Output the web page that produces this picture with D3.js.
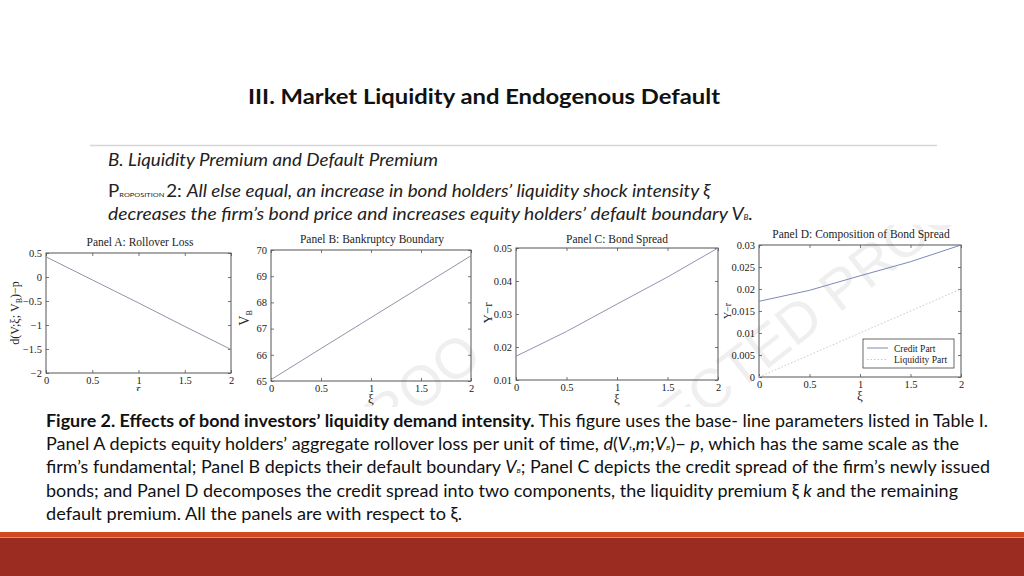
<!DOCTYPE html>
<html>
<head>
<meta charset="utf-8">
<script src="https://cdn.jsdelivr.net/npm/d3@7"></script>
<style>
  html, body { margin: 0; padding: 0; background: #fff; }
  svg { display: block; }
</style>
</head>
<body>
<svg width="1024" height="576"></svg>
<script>
// Chart data
const xi = [0, 0.5, 1, 1.5, 2];
const rolloverLoss = [0.42, -0.06, -0.54, -1.03, -1.51];
const defaultBoundary = [65.05, 66.24, 67.42, 68.6, 69.78];
const bondSpread = [0.0172, 0.0247, 0.0330, 0.0412, 0.0500];
const creditPart = [0.0172, 0.0197, 0.0230, 0.0262, 0.0300];
const liquidityPart = [0, 0.005, 0.010, 0.015, 0.020];

const xTicks = [0, 0.5, 1, 1.5, 2];
const ticksA = [-2, -1.5, -1, -0.5, 0, 0.5];
const ticksB = [65, 66, 67, 68, 69, 70];
const ticksC = [0.01, 0.02, 0.03, 0.04, 0.05];
const ticksD = [0, 0.005, 0.01, 0.015, 0.02, 0.025, 0.03];
const legendLabels = ["Credit Part", "Liquidity Part"];

const svg = d3.select("svg");
const serif = "'Liberation Serif', 'DejaVu Serif', serif";
const sans = "Lato, 'Open Sans', sans-serif";

// faint watermark behind the figure panels
const defs = svg.append("defs");
defs.append("clipPath").attr("id", "figClip")
  .append("rect").attr("x", 0).attr("y", 225).attr("width", 1000).attr("height", 182);

const wm = svg.append("g").attr("clip-path", "url(#figClip)")
  .attr("font-family", "'Liberation Sans', Arial, sans-serif")
  .attr("font-size", 56)
  .attr("fill", "#efefef");

function watermark(x, y, head, tail) {
  const w = wm.append("g").attr("transform", `translate(${x},${y}) rotate(-38)`);
  w.append("text").attr("text-anchor", "end").text(head);
  w.append("text").attr("text-anchor", "start").text(tail);
}
watermark(738, 392, "UNCORREC", "TED PROOF");
watermark(416, 414, "UNCORRECTED PR", "OO");

// Slide title
svg.append("text")
  .attr("x", 484).attr("y", 104)
  .attr("text-anchor", "middle")
  .attr("font-family", sans)
  .attr("font-weight", "bold")
  .attr("font-size", 21)
  .attr("textLength", 472).attr("lengthAdjust", "spacingAndGlyphs")
  .attr("fill", "#111")
  .text("III. Market Liquidity and Endogenous Default");

svg.append("line")
  .attr("x1", 90).attr("x2", 937).attr("y1", 145.5).attr("y2", 145.5)
  .attr("stroke", "#d6d6d6").attr("stroke-width", 1.5);

svg.append("text")
  .attr("x", 108).attr("y", 166)
  .attr("font-family", sans).attr("font-style", "italic")
  .attr("font-size", 16.5)
  .attr("textLength", 330).attr("lengthAdjust", "spacingAndGlyphs")
  .attr("fill", "#222")
  .text("B. Liquidity Premium and Default Premium");

const prop = svg.append("text")
  .attr("x", 108).attr("y", 197)
  .attr("font-family", sans).attr("font-size", 16.5).attr("fill", "#222")
  .attr("textLength", 602).attr("lengthAdjust", "spacingAndGlyphs");
prop.append("tspan").text("P");
prop.append("tspan").attr("font-size", 6.5).text("ROPOSITION ");
prop.append("tspan").text("2: ");
prop.append("tspan").attr("font-style", "italic")
  .text("All else equal, an increase in bond holders\u2019 liquidity shock intensity \u03be");

const prop2 = svg.append("text")
  .attr("x", 108).attr("y", 220)
  .attr("font-family", sans).attr("font-size", 16.5).attr("fill", "#222")
  .attr("font-style", "italic")
  .attr("textLength", 645).attr("lengthAdjust", "spacingAndGlyphs");
prop2.append("tspan").text("decreases the firm\u2019s bond price and increases equity holders\u2019 default boundary V");
prop2.append("tspan").attr("font-size", 7).text("B");
prop2.append("tspan").text(".");

// Generic MATLAB-style panel
function drawPanel(cfg) {
  const g = svg.append("g");
  if (cfg.clipBottom) {
    const id = "clip" + cfg.id;
    defs.append("clipPath").attr("id", id)
      .append("rect").attr("x", cfg.x0 - 60).attr("y", cfg.y0 - 40)
      .attr("width", cfg.x1 - cfg.x0 + 80).attr("height", cfg.clipBottom - cfg.y0 + 40);
    g.attr("clip-path", `url(#${id})`);
  }
  const x = d3.scaleLinear().domain([0, 2]).range([cfg.x0, cfg.x1]);
  const y = d3.scaleLinear().domain(cfg.yDomain).range([cfg.y1, cfg.y0]);

  const tickStyle = sel => {
    sel.select(".domain").remove();
    sel.selectAll("line").attr("stroke", "#555").attr("stroke-width", 0.8);
    sel.selectAll("text").attr("font-family", serif).attr("font-size", 10.5).attr("fill", "#222");
  };

  // inward ticks on all four sides
  g.append("g").attr("transform", `translate(0,${cfg.y1})`)
    .call(d3.axisBottom(x).tickValues(xTicks).tickSize(-3).tickPadding(4).tickFormat(d3.format("~g")))
    .call(tickStyle);
  g.append("g").attr("transform", `translate(0,${cfg.y0})`)
    .call(d3.axisTop(x).tickValues(xTicks).tickSize(-3).tickFormat(""))
    .call(tickStyle);
  g.append("g").attr("transform", `translate(${cfg.x0},0)`)
    .call(d3.axisLeft(y).tickValues(cfg.yTicks).tickSize(-3).tickPadding(4)
      .tickFormat(d => d3.format("~g")(d).replace("-", "\u2212")))
    .call(tickStyle);
  g.append("g").attr("transform", `translate(${cfg.x1},0)`)
    .call(d3.axisRight(y).tickValues(cfg.yTicks).tickSize(-3).tickFormat(""))
    .call(tickStyle);

  g.append("rect")
    .attr("x", cfg.x0).attr("y", cfg.y0)
    .attr("width", cfg.x1 - cfg.x0).attr("height", cfg.y1 - cfg.y0)
    .attr("fill", "none").attr("stroke", "#555").attr("stroke-width", 1);

  const line = d3.line().x((d, i) => x(xi[i])).y(d => y(d));
  cfg.series.forEach(s => {
    g.append("path").datum(s.values)
      .attr("d", line)
      .attr("fill", "none")
      .attr("stroke", s.color)
      .attr("stroke-width", s.width || 1)
      .attr("stroke-dasharray", s.dash || null);
  });

  g.append("text")
    .attr("x", cfg.titleX).attr("y", cfg.titleY)
    .attr("text-anchor", "middle")
    .attr("font-family", serif).attr("font-size", 11.5).attr("fill", "#222")
    .text(cfg.title);

  const yl = g.append("text")
    .attr("transform", `translate(${cfg.ylabX},${cfg.ylabY}) rotate(-90)`)
    .attr("text-anchor", "middle")
    .attr("font-family", serif).attr("font-size", cfg.ylabSize || 12).attr("fill", "#222");
  cfg.ylab.forEach(p => {
    const t = yl.append("tspan").text(p.t);
    if (p.sub) t.attr("font-size", 8).attr("dy", 3);
    if (p.up) t.attr("dy", -3);
  });

  g.append("text")
    .attr("x", (cfg.x0 + cfg.x1) / 2).attr("y", cfg.xlabY)
    .attr("text-anchor", "middle")
    .attr("font-family", serif).attr("font-size", 13).attr("fill", "#222")
    .text("\u03be");

  return { g, x, y };
}

drawPanel({
  id: "A", x0: 46, x1: 231, y0: 253, y1: 373,
  yDomain: [-2, 0.5], yTicks: ticksA,
  series: [{ values: rolloverLoss, color: "#8f95a8" }],
  title: "Panel A: Rollover Loss", titleX: 140, titleY: 246,
  ylab: [{ t: "d(V;\u03be; V" }, { t: "B", sub: true }, { t: ")\u2212p", up: true }],
  ylabX: 19, ylabY: 313, xlabY: 396, clipBottom: 391
});

drawPanel({
  id: "B", x0: 271, x1: 471, y0: 250, y1: 381,
  yDomain: [65, 70], yTicks: ticksB,
  series: [{ values: defaultBoundary, color: "#8f95a8" }],
  title: "Panel B: Bankruptcy Boundary", titleX: 372, titleY: 243,
  ylab: [{ t: "V" }, { t: "B", sub: true }],
  ylabX: 249, ylabY: 318, ylabSize: 14, xlabY: 403
});

drawPanel({
  id: "C", x0: 516, x1: 718, y0: 248, y1: 380,
  yDomain: [0.01, 0.05], yTicks: ticksC,
  series: [{ values: bondSpread, color: "#8f95b2" }],
  title: "Panel C: Bond Spread", titleX: 617, titleY: 243,
  ylab: [{ t: "Y\u2212r" }],
  ylabX: 492, ylabY: 313, ylabSize: 13, xlabY: 403
});

const pD = drawPanel({
  id: "D", x0: 759, x1: 961, y0: 245, y1: 377,
  yDomain: [0, 0.03], yTicks: ticksD,
  series: [
    { values: creditPart, color: "#7e88b6" },
    { values: liquidityPart, color: "#c8c8c8", dash: "1.5,2" }
  ],
  title: "Panel D: Composition of Bond Spread", titleX: 861, titleY: 238,
  ylab: [{ t: "Y\u2212r" }],
  ylabX: 731, ylabY: 311, ylabSize: 10, xlabY: 400
});

// legend for panel D
const leg = pD.g.append("g");
leg.append("rect")
  .attr("x", 863).attr("y", 339).attr("width", 91).attr("height", 29)
  .attr("fill", "#fff").attr("stroke", "#444").attr("stroke-width", 0.8);
const legColors = ["#7e88b6", "#c8c8c8"];
const legDash = [null, "1.5,2"];
legendLabels.forEach((lab, i) => {
  const yy = 348 + i * 11.5;
  leg.append("line")
    .attr("x1", 867).attr("x2", 888).attr("y1", yy).attr("y2", yy)
    .attr("stroke", legColors[i]).attr("stroke-dasharray", legDash[i]);
  leg.append("text")
    .attr("x", 894).attr("y", yy + 3.5)
    .attr("font-family", serif).attr("font-size", 9.5).attr("fill", "#222")
    .text(lab);
});

// Caption
const capLines = [
  { w: 942, parts: [
    { t: "Figure 2. Effects of bond investors\u2019 liquidity demand intensity.", b: true },
    { t: " This figure uses the base- line parameters listed in Table I." }] },
  { w: 913, parts: [
    { t: "Panel A depicts equity holders\u2019 aggregate rollover loss per unit of time, " },
    { t: "d", i: true }, { t: "(" }, { t: "V", i: true }, { t: "t", i: true, s: true },
    { t: "," }, { t: "m", i: true }, { t: ";" }, { t: "V", i: true }, { t: "B", i: true, s: true },
    { t: ")\u2212 " }, { t: "p", i: true }, { t: ", which has the same scale as the" }] },
  { w: 944, parts: [
    { t: "firm\u2019s fundamental; Panel B depicts their default boundary " },
    { t: "V", i: true }, { t: "B", i: true, s: true },
    { t: "; Panel C depicts the credit spread of the firm\u2019s newly issued" }] },
  { w: 912, parts: [
    { t: "bonds; and Panel D decomposes the credit spread into two components, the liquidity premium \u03be " },
    { t: "k", i: true }, { t: " and the remaining" }] },
  { w: 416, parts: [{ t: "default premium. All the panels are with respect to \u03be." }] }
];

capLines.forEach((ln, i) => {
  const t = svg.append("text")
    .attr("x", 46).attr("y", 427 + i * 23.2)
    .attr("font-family", sans).attr("font-size", 16.5).attr("fill", "#111")
    .attr("textLength", ln.w).attr("lengthAdjust", "spacingAndGlyphs");
  ln.parts.forEach(p => {
    const s = t.append("tspan").text(p.t);
    if (p.b) s.attr("font-weight", "bold");
    if (p.i) s.attr("font-style", "italic");
    if (p.s) s.attr("font-size", 6.5);
  });
});

// Bottom band
svg.append("rect").attr("x", 0).attr("y", 532).attr("width", 1024).attr("height", 5).attr("fill", "#d04a1f");
svg.append("rect").attr("x", 0).attr("y", 537).attr("width", 1024).attr("height", 1).attr("fill", "#e88a6a");
svg.append("rect").attr("x", 0).attr("y", 538).attr("width", 1024).attr("height", 38).attr("fill", "#9b2c21");
</script>
</body>
</html>
